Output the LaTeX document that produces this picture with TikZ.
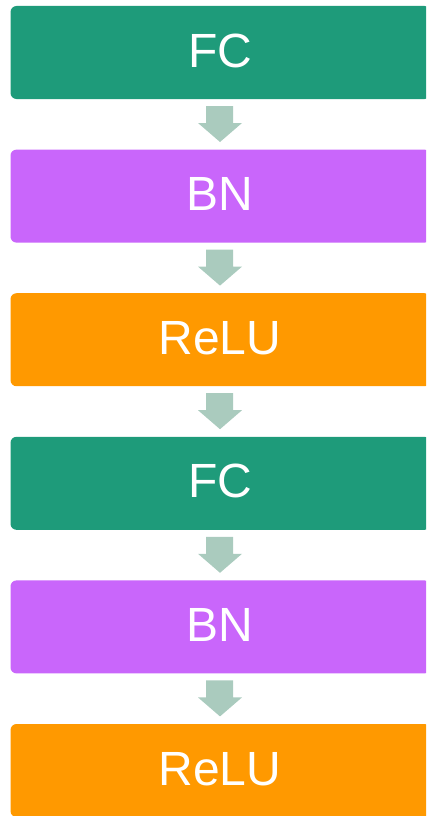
\documentclass[tikz,border=0pt]{standalone}
\usepackage{fontspec}
\setmainfont{Liberation Sans}
\definecolor{fcgreen}{HTML}{1E9B7A}
\definecolor{bnpurple}{HTML}{C966FB}
\definecolor{reluorange}{HTML}{FF9900}
\definecolor{flowarrow}{HTML}{AACBBE}
\tikzset{
  layerbox/.style={draw=none, rounded corners=6pt, minimum width=420pt, minimum height=93pt,
    anchor=north west, inner sep=0pt, outer sep=0pt},
  layertext/.style={text=white, font=\fontsize{48}{48}\selectfont, anchor=base, inner sep=0pt},
  downarrow/.style={fill=flowarrow, draw=none}
}
\begin{document}
\begin{tikzpicture}[x=1pt, y=-1pt]
  \useasboundingbox (0,0) rectangle (426,816);
  \clip (0,0) rectangle (426,816);
  % layer boxes, top to bottom
  \foreach \i/\col/\lab in {0/fcgreen/FC, 1/bnpurple/BN, 2/reluorange/ReLU, 3/fcgreen/FC, 4/bnpurple/BN, 5/reluorange/ReLU}{
    \pgfmathsetmacro{\top}{6+143.6*\i}
    \node[layerbox, fill=\col] (box\i) at (10.5,\top) {};
    \node[layertext] (lab\i) at (220,\top+61) {\lab};
  }
  % block arrows between consecutive layers
  \foreach \i in {0,...,4}{
    \pgfmathsetmacro{\b}{99+143.6*\i}
    \coordinate (tip\i) at (220,\b+43);
    \fill[downarrow] (206,\b+7) -- (233,\b+7) -- (233,\b+24) -- (242,\b+24)
      -- (tip\i) -- (198,\b+24) -- (206,\b+24) -- cycle;
  }
\end{tikzpicture}
\end{document}
